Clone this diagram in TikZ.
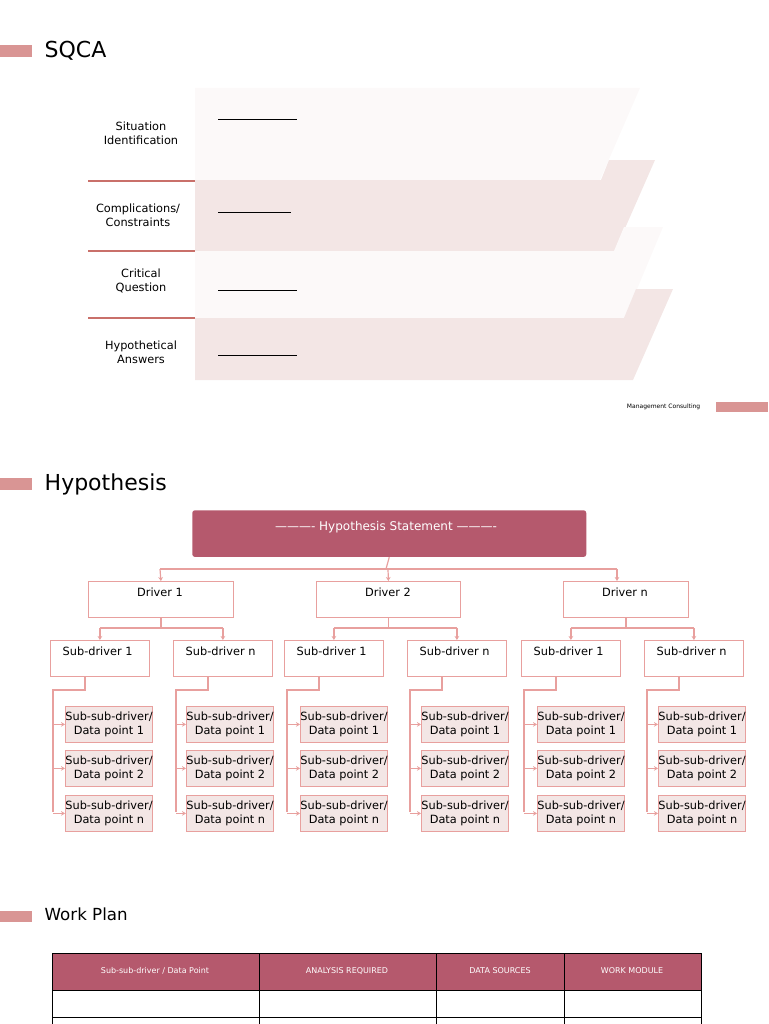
\documentclass[tikz,border=0pt]{standalone}
\usepackage{fontspec}
\setmainfont{DejaVu Sans}
\usetikzlibrary{arrows.meta}
\definecolor{bar}{HTML}{D99594}
\definecolor{hdr}{HTML}{B5596D}
\definecolor{lite}{HTML}{FCF9F9}
\definecolor{pinkf}{HTML}{F3E6E5}
\definecolor{ln}{HTML}{E8A09E}
\definecolor{sep}{HTML}{C9706A}
\tikzset{
  sbar/.style={fill=bar,draw=none},
  conn/.style={draw=ln,line width=0.9pt},
  arr/.style={conn,-{Stealth[length=3pt,width=3.5pt]}},
  box/.style={draw=ln,line width=0.6pt,fill=white,anchor=north west,inner sep=0pt},
  ssbox/.style={draw=ln,line width=0.6pt,fill=pinkf,anchor=north west,inner sep=0pt,align=center,font=\fontsize{8.5}{10}\selectfont},
  lbl/.style={font=\fontsize{8.5}{10.5}\selectfont,align=center},
  th/.style={font=\fontsize{6}{7}\selectfont,text=white},
}
\begin{document}
\begin{tikzpicture}[x=0.75pt,y=-0.75pt]
\useasboundingbox (0,0) rectangle (768,1024);
% ---------- SQCA
\fill[sbar] (0,45) rectangle (32,57);
\node[anchor=west,font=\fontsize{16.5}{18}\selectfont] (t1) at (40,51) {SQCA};
\fill[lite] (195,88) -- (640,88) -- (600,180) -- (195,180) -- cycle;
\fill[pinkf] (195,180) -- (601,180) -- (609,160) -- (655,160) -- (615,251) -- (195,251) -- cycle;
\fill[lite] (195,251) -- (614,251) -- (624,227) -- (663,227) -- (625,318) -- (195,318) -- cycle;
\fill[pinkf] (195,318) -- (624,318) -- (636,289) -- (673,289) -- (633,380) -- (195,380) -- cycle;
\foreach \yy in {181,251,318} \draw[sep,line width=1pt] (88,\yy) -- (195,\yy);
\node[lbl] (q1) at (141,133) {Situation\\Identification};
\node[lbl] (q2) at (138,215) {Complications/\\Constraints};
\node[lbl] (q3) at (141,281) {Critical\\Question};
\node[lbl] (q4) at (141,352) {Hypothetical\\Answers};
\draw[line width=0.7pt] (218,119) -- (297,119);
\draw[line width=0.7pt] (218,212) -- (291,212);
\draw[line width=0.7pt] (218,290) -- (297,290);
\draw[line width=0.7pt] (218,355) -- (297,355);
\node[anchor=east,font=\fontsize{4.5}{5}\selectfont] (mc) at (705,407) {Management Consulting};
\fill[sbar] (716,402) rectangle (768,412);
% ---------- Hypothesis
\fill[sbar] (0,478) rectangle (32,490);
\node[anchor=west,font=\fontsize{16.5}{18}\selectfont] (t2) at (40,484) {Hypothesis};
\node[fill=hdr,rounded corners=2pt,anchor=north west,minimum width=295.5pt,minimum height=35pt,text=white,font=\fontsize{9}{11}\selectfont,inner sep=0pt] (hs) at (192,510) {};
\node[text=white,font=\fontsize{9}{11}\selectfont] at (386,527) {---------- Hypothesis Statement ----------};
\node[box,minimum width=108.75pt,minimum height=27pt] (d1) at (88,581) {};
\node[box,minimum width=108pt,minimum height=27pt] (d2) at (316,581) {};
\node[box,minimum width=93.75pt,minimum height=27pt] (d3) at (563,581) {};
\node[lbl] at (160,592) {Driver 1};
\node[lbl] at (388,592) {Driver 2};
\node[lbl] at (625,592) {Driver n};
\draw[conn] (hs.south) -- (386,569);
\draw[conn] (160,569) -- (617,569);
\draw[arr] (160,569) -- (d1.north);
\draw[arr] (388,569) -- (d2.north);
\draw[arr] (617,569) -- (d3.north -| 617,0);
% sub-drivers
\foreach \i/\sx/\bx/\bw/\txt in {1/50/65/83/Sub-driver 1,2/173/186/80/Sub-driver n,3/284/300/83/Sub-driver 1,4/407/421/80/Sub-driver n,5/521/537/83/Sub-driver 1,6/644/658/80/Sub-driver n}{
  \node[box,minimum width=74.25pt,minimum height=27pt] (s\i) at (\sx,640) {};
  \node[lbl,anchor=west] at (\sx+8,651) {\txt};
  \pgfmathsetmacro{\ww}{\bw*0.75}
  \node[ssbox,minimum width=\ww pt,minimum height=27pt] (a\i) at (\bx,706) {Sub-sub-driver/\\Data point 1};
  \node[ssbox,minimum width=\ww pt,minimum height=27pt] (b\i) at (\bx,750) {Sub-sub-driver/\\Data point 2};
  \node[ssbox,minimum width=\ww pt,minimum height=27pt] (c\i) at (\bx,795) {Sub-sub-driver/\\Data point n};
  \coordinate (k\i) at (\sx+35,676);
  \coordinate (v\i) at (\sx+3,690);
  \draw[conn] (k\i) -- (\sx+35,690) -- (v\i) -- (\sx+3,812);
  \draw[arr] (v\i |- a\i.west) -- (a\i.west);
  \draw[arr] (v\i |- b\i.west) -- (b\i.west);
  \draw[arr] (v\i |- c\i.west) -- (c\i.west);
}
\foreach \d/\l/\r in {d1/s1/s2,d2/s3/s4,d3/s5/s6}{
  \draw[conn] (\d.south) -- (\d.south |- 0,628);
  \draw[conn] (\l.north |- 0,628) -- (\r.north |- 0,628);
  \draw[arr] (\l.north |- 0,628) -- (\l.north);
  \draw[arr] (\r.north |- 0,628) -- (\r.north);
}
% ---------- Work plan
\fill[sbar] (0,911) rectangle (32,922);
\node[anchor=west,font=\fontsize{12.5}{14}\selectfont] (t3) at (40,914) {Work Plan};
\fill[hdr] (52,953) rectangle (701,990);
\draw[line width=0.6pt] (52,953) rectangle (701,990);
\draw[line width=0.6pt] (52,990) -- (52,1024) (701,990) -- (701,1024);
\draw[line width=0.6pt] (52,1017) -- (701,1017);
\foreach \xx in {259,436,564} \draw[line width=0.6pt] (\xx,953) -- (\xx,1024);
\node[th] (h1) at (155,971) {Sub-sub-driver / Data Point};
\node[th] (h2) at (347,971) {ANALYSIS REQUIRED};
\node[th] (h3) at (500,971) {DATA SOURCES};
\node[th] (h4) at (632,971) {WORK MODULE};
\end{tikzpicture}
\end{document}
